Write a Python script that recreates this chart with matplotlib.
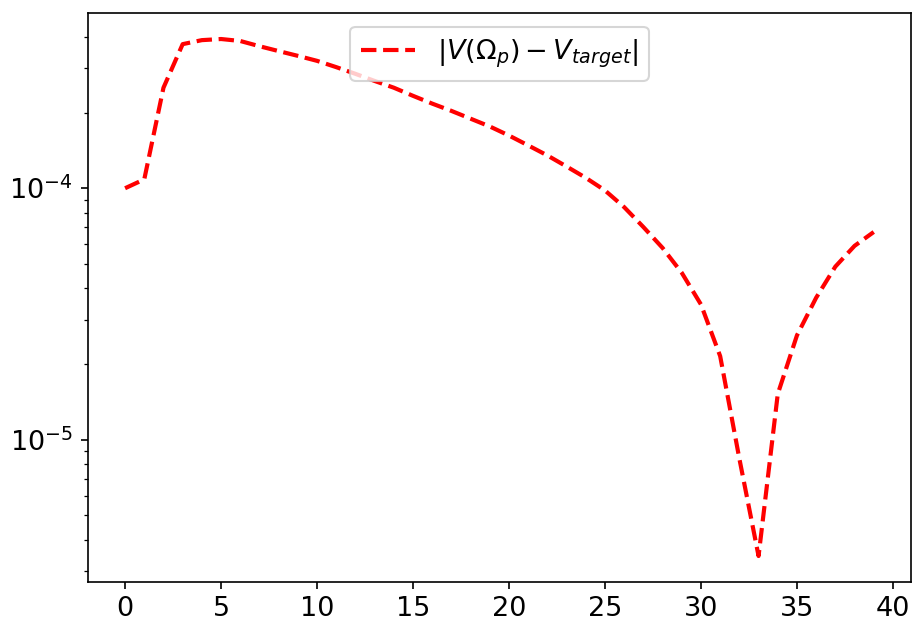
import numpy as np
import matplotlib
matplotlib.use("Agg")
import matplotlib.pyplot as plt

# erreur absolue par iteration
iterations = np.arange(40)
erreur = [1.0e-4, 1.085e-4, 2.51e-4, 3.74e-4, 3.88e-4, 3.92e-4, 3.85e-4, 3.67e-4,
          3.51e-4, 3.36e-4, 3.21e-4, 3.03e-4, 2.85e-4, 2.67e-4, 2.51e-4, 2.33e-4,
          2.17e-4, 2.03e-4, 1.89e-4, 1.76e-4, 1.62e-4, 1.48e-4, 1.35e-4, 1.22e-4,
          1.10e-4, 0.98e-4, 0.841e-4, 0.701e-4, 0.579e-4, 0.461e-4, 0.345e-4,
          0.215e-4, 0.841e-5, 0.345e-5, 0.152e-4, 0.260e-4, 0.367e-4, 0.488e-4,
          0.590e-4, 0.670e-4]

plt.rcParams['font.size'] = 13

fig = plt.figure(figsize=(913/150, 627/150), dpi=150)
fig.subplots_adjust(left=0.096, right=0.998, top=0.979, bottom=0.072)
ax = fig.add_subplot(111)

ax.plot(iterations, erreur, "r--", linewidth=2, label=r"$|V(\Omega_p) - V_{target}|$")
ax.set_yscale("log")
ax.legend(loc="upper center")

fig.savefig("out.png", dpi=150)
